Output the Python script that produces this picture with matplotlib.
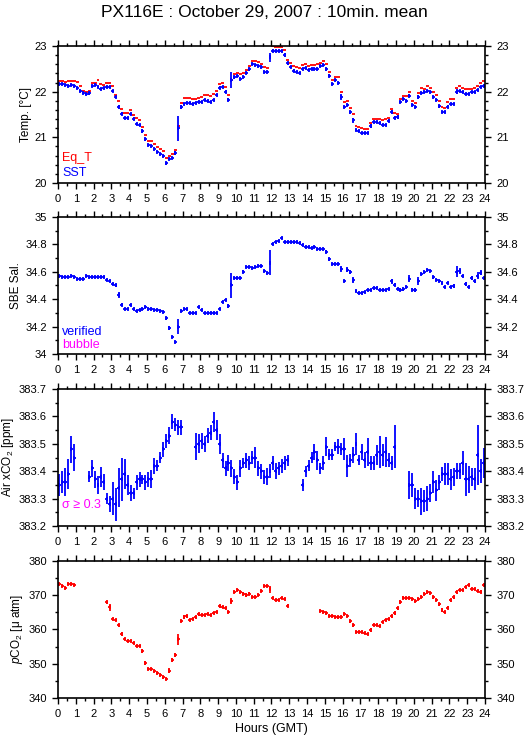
import numpy as np
import matplotlib
matplotlib.use("Agg")
import matplotlib.pyplot as plt
from matplotlib.ticker import MultipleLocator

plt.rcParams['font.family'] = ['Liberation Sans', 'DejaVu Sans']
plt.rcParams['mathtext.fontset'] = 'custom'
plt.rcParams['mathtext.rm'] = 'Liberation Sans'
plt.rcParams['mathtext.it'] = 'Liberation Sans:italic'

nan = np.nan

# 10-minute bins, one row per hour
hours = np.arange(144) / 6.0 + 1 / 12.0

sst = [
    22.16, 22.17, 22.15, 22.13, 22.14, 22.13,
    22.09, 22.02, 21.97, 21.94, 21.96, 22.12,
    22.14, 22.11, 22.06, 22.07, 22.10, 22.10,
    22.01, 21.88, 21.67, 21.52, 21.43, 21.43,
    21.50, 21.41, 21.30, 21.26, 21.14, 20.96,
    20.84, 20.81, 20.75, 20.68, 20.63, 20.60,
    20.43, 20.53, 20.55, 20.66, 21.20, 21.67,
    21.74, 21.75, 21.76, 21.74, 21.75, 21.77,
    21.78, 21.82, 21.80, 21.77, 21.82, 21.93,
    22.09, 22.10, 22.00, 21.82, 22.25, 22.31,
    22.34, 22.27, 22.32, 22.40, 22.49, 22.60,
    22.59, 22.57, 22.53, 22.43, 22.42, 22.75,
    22.90, 22.88, 22.88, 22.88, 22.80, 22.62,
    22.54, 22.46, 22.44, 22.40, 22.50, 22.51,
    22.47, 22.49, 22.49, 22.50, 22.56, 22.58,
    22.49, 22.35, 22.17, 22.25, 22.19, 21.88,
    21.67, 21.70, 21.55, 21.37, 21.17, 21.14,
    21.10, 21.10, 21.10, 21.25, 21.33, 21.33,
    21.31, 21.26, 21.28, 21.36, 21.55, 21.43,
    21.44, 21.77, 21.83, 21.80, 21.91, 21.70,
    21.66, 21.88, 21.98, 22.00, 22.02, 22.00,
    21.88, 21.82, 21.68, 21.56, 21.56, 21.67,
    21.73, 21.74, 22.00, 22.02, 21.99, 21.95,
    21.95, 22.00, 22.00, 22.04, 22.10, 22.13,
]
sst_sd = [
    0.02, 0.02, 0.02, 0.02, 0.02, 0.02,
    0.02, 0.02, 0.03, 0.02, 0.03, 0.02,
    0.02, 0.02, 0.02, 0.02, 0.02, 0.02,
    0.02, 0.03, 0.04, 0.03, 0.02, 0.02,
    0.02, 0.03, 0.02, 0.02, 0.04, 0.03,
    0.02, 0.02, 0.02, 0.02, 0.02, 0.02,
    0.03, 0.02, 0.02, 0.05, 0.27, 0.04,
    0.02, 0.02, 0.02, 0.02, 0.02, 0.02,
    0.02, 0.02, 0.02, 0.02, 0.02, 0.02,
    0.03, 0.02, 0.04, 0.03, 0.17, 0.03,
    0.02, 0.02, 0.02, 0.02, 0.03, 0.02,
    0.02, 0.02, 0.02, 0.02, 0.02, 0.10,
    0.03, 0.02, 0.02, 0.02, 0.04, 0.03,
    0.03, 0.03, 0.02, 0.02, 0.02, 0.02,
    0.02, 0.02, 0.02, 0.02, 0.02, 0.02,
    0.03, 0.04, 0.03, 0.02, 0.03, 0.07,
    0.02, 0.02, 0.03, 0.06, 0.02, 0.02,
    0.02, 0.02, 0.02, 0.04, 0.02, 0.02,
    0.02, 0.02, 0.02, 0.03, 0.04, 0.03,
    0.05, 0.02, 0.02, 0.02, 0.03, 0.02,
    0.02, 0.05, 0.02, 0.02, 0.02, 0.02,
    0.02, 0.02, 0.03, 0.02, 0.02, 0.03,
    0.03, 0.02, 0.05, 0.02, 0.02, 0.02,
    0.02, 0.02, 0.02, 0.02, 0.02, 0.02,
]
eq_t = [
    22.24, 22.24, 22.22, 22.23, 22.24, 22.24,
    22.22, 22.12, 22.02, 22.00, 22.01, 22.19,
    22.19, 22.25, 22.17, 22.15, 22.19, 22.20,
    22.12, 21.92, 21.80, 21.62, 21.53, 21.53,
    21.60, 21.48, 21.42, 21.37, 21.22, 21.06,
    20.93, 20.91, 20.86, 20.79, 20.74, 20.70,
    20.55, 20.60, 20.64, 20.73, 21.25, 21.76,
    21.85, 21.85, 21.86, 21.84, 21.84, 21.87,
    21.88, 21.93, 21.93, 21.90, 21.95, 22.02,
    22.17, 22.19, 22.11, 21.93, 22.26, 22.38,
    22.40, 22.38, 22.40, 22.47, 22.56, 22.67,
    22.66, 22.64, 22.60, 22.53, 22.52, 22.78,
    22.99, 22.98, 22.98, 22.98, 22.91, 22.70,
    22.62, 22.57, 22.53, 22.51, 22.58, 22.60,
    22.56, 22.58, 22.58, 22.60, 22.63, 22.66,
    22.60, 22.42, 22.25, 22.33, 22.31, 22.00,
    21.77, 21.79, 21.64, 21.51, 21.25, 21.22,
    21.20, 21.19, 21.19, 21.32, 21.41, 21.41,
    21.41, 21.37, 21.39, 21.42, 21.62, 21.53,
    21.51, 21.84, 21.91, 21.91, 21.99, 21.79,
    21.75, 21.96, 22.07, 22.06, 22.12, 22.08,
    21.99, 21.93, 21.79, 21.66, 21.64, 21.77,
    21.83, 21.83, 22.09, 22.12, 22.08, 22.06,
    22.05, 22.06, 22.07, 22.13, 22.18, 22.23,
]

sal = [
    34.567, 34.565, 34.564, 34.563, 34.566, 34.563,
    34.548, 34.547, 34.550, 34.566, 34.560, 34.560,
    34.562, 34.561, 34.562, 34.560, 34.540, 34.535,
    34.510, 34.500, 34.430, 34.360, 34.330, 34.330,
    34.360, 34.330, 34.315, 34.320, 34.330, 34.340,
    34.326, 34.325, 34.323, 34.320, 34.315, 34.305,
    34.260, 34.190, 34.125, 34.090, 34.200, 34.315,
    34.330, 34.330, 34.300, 34.297, 34.300, 34.340,
    34.320, 34.297, 34.297, 34.300, 34.300, 34.300,
    34.330, 34.380, 34.394, 34.350, 34.500, 34.557,
    34.553, 34.557, 34.600, 34.637, 34.637, 34.630,
    34.632, 34.640, 34.640, 34.606, 34.592, 34.667,
    34.800, 34.820, 34.825, 34.845, 34.820, 34.815,
    34.815, 34.815, 34.815, 34.810, 34.795, 34.780,
    34.778, 34.777, 34.778, 34.766, 34.765, 34.765,
    34.747, 34.690, 34.655, 34.655, 34.657, 34.620,
    34.530, 34.615, 34.600, 34.540, 34.460, 34.448,
    34.448, 34.455, 34.467, 34.467, 34.484, 34.480,
    34.467, 34.467, 34.467, 34.475, 34.530, 34.505,
    34.475, 34.470, 34.472, 34.487, 34.548, 34.470,
    34.467, 34.533, 34.584, 34.596, 34.613, 34.606,
    34.560, 34.540, 34.533, 34.516, 34.490, 34.516,
    34.490, 34.496, 34.600, 34.606, 34.570, 34.510,
    34.487, 34.557, 34.530, 34.570, 34.594, 34.557,
]
sal_sd = [
    0.004, 0.004, 0.004, 0.004, 0.004, 0.004,
    0.004, 0.004, 0.004, 0.004, 0.004, 0.004,
    0.004, 0.004, 0.004, 0.004, 0.006, 0.006,
    0.008, 0.008, 0.020, 0.010, 0.006, 0.006,
    0.006, 0.008, 0.004, 0.004, 0.004, 0.006,
    0.004, 0.004, 0.004, 0.004, 0.004, 0.004,
    0.012, 0.012, 0.008, 0.008, 0.055, 0.006,
    0.006, 0.006, 0.004, 0.004, 0.004, 0.006,
    0.006, 0.004, 0.004, 0.004, 0.004, 0.004,
    0.008, 0.006, 0.006, 0.012, 0.090, 0.008,
    0.006, 0.006, 0.010, 0.004, 0.004, 0.004,
    0.004, 0.004, 0.004, 0.006, 0.004, 0.090,
    0.008, 0.006, 0.004, 0.006, 0.004, 0.004,
    0.004, 0.004, 0.004, 0.004, 0.004, 0.004,
    0.004, 0.004, 0.004, 0.004, 0.004, 0.004,
    0.010, 0.010, 0.006, 0.004, 0.004, 0.025,
    0.008, 0.020, 0.015, 0.020, 0.008, 0.004,
    0.004, 0.004, 0.004, 0.004, 0.004, 0.004,
    0.004, 0.004, 0.004, 0.004, 0.018, 0.010,
    0.010, 0.008, 0.010, 0.006, 0.025, 0.012,
    0.012, 0.030, 0.008, 0.006, 0.004, 0.004,
    0.010, 0.006, 0.006, 0.006, 0.008, 0.006,
    0.008, 0.012, 0.040, 0.020, 0.010, 0.012,
    0.008, 0.015, 0.012, 0.025, 0.018, 0.008,
]

air = [
    383.35, 383.36, 383.36, 383.39, 383.48, 383.45,
    nan, nan, nan, nan, 383.38, 383.41,
    383.37, 383.35, 383.38, 383.36, 383.30, 383.28,
    383.30, 383.28, 383.34, 383.37, 383.39, 383.35,
    383.32, 383.32, 383.36, 383.37, 383.37, 383.36,
    383.37, 383.37, 383.42, 383.42, 383.45, 383.48,
    383.51, 383.53, 383.58, 383.57, 383.56, 383.56,
    nan, nan, nan, nan, 383.49, 383.50,
    383.51, 383.50, 383.53, 383.54, 383.58, 383.55,
    383.50, 383.44, 383.41, 383.43, 383.41, 383.38,
    383.36, 383.41, 383.43, 383.44, 383.43, 383.45,
    383.45, 383.41, 383.40, 383.38, 383.38, 383.40,
    383.43, 383.40, 383.41, 383.42, 383.43, 383.44,
    nan, nan, nan, nan, 383.35, 383.40,
    383.42, 383.45, 383.47, 383.44, 383.41, 383.43,
    383.49, 383.46, 383.46, 383.49, 383.49, 383.48,
    383.48, 383.42, 383.44, 383.46, 383.50, 383.44,
    383.47, 383.44, 383.47, 383.43, 383.43, 383.46,
    383.47, 383.46, 383.47, 383.44, 383.43, 383.49,
    nan, nan, nan, nan, 383.35, 383.35,
    383.30, 383.30, 383.29, 383.29, 383.30, 383.32,
    383.36, 383.33, 383.36, 383.39, 383.39, 383.39,
    383.37, 383.38, 383.40, 383.40, 383.43, 383.37,
    383.37, 383.38, 383.37, 383.46, 383.40, 383.43,
]
air_sd = [
    0.040, 0.040, 0.050, 0.055, 0.050, 0.050,
    nan, nan, nan, nan, 0.020, 0.030,
    0.030, 0.033, 0.037, 0.030, 0.020, 0.030,
    0.060, 0.060, 0.070, 0.080, 0.055, 0.037,
    0.030, 0.020, 0.027, 0.027, 0.018, 0.027,
    0.026, 0.033, 0.030, 0.020, 0.020, 0.027,
    0.027, 0.030, 0.027, 0.025, 0.028, 0.028,
    nan, nan, nan, nan, 0.048, 0.034,
    0.030, 0.030, 0.027, 0.027, 0.036, 0.037,
    0.037, 0.027, 0.027, 0.030, 0.030, 0.027,
    0.027, 0.030, 0.020, 0.027, 0.027, 0.024,
    0.040, 0.027, 0.027, 0.025, 0.030, 0.025,
    0.027, 0.030, 0.025, 0.025, 0.025, 0.020,
    nan, nan, nan, nan, 0.022, 0.020,
    0.020, 0.020, 0.030, 0.035, 0.020, 0.027,
    0.036, 0.020, 0.020, 0.016, 0.027, 0.022,
    0.040, 0.040, 0.024, 0.030, 0.040, 0.018,
    0.030, 0.030, 0.050, 0.027, 0.025, 0.036,
    0.060, 0.040, 0.055, 0.025, 0.027, 0.080,
    nan, nan, nan, nan, 0.050, 0.043,
    0.037, 0.030, 0.050, 0.040, 0.045, 0.033,
    0.040, 0.037, 0.027, 0.027, 0.040, 0.040,
    0.037, 0.033, 0.030, 0.030, 0.045, 0.060,
    0.050, 0.033, 0.040, 0.110, 0.043, 0.055,
]

pco2 = [
    373.3, 372.7, 372.0, 373.3, 373.3, 373.0,
    nan, nan, nan, nan, nan, nan,
    nan, nan, nan, nan, 367.9, 366.5,
    363.1, 362.7, 361.2, 358.6, 357.1, 356.5,
    356.5, 356.0, 355.2, 355.1, 353.6, 350.3,
    348.5, 348.4, 347.9, 347.2, 346.6, 346.0,
    345.6, 348.0, 351.0, 352.6, 357.2, 362.4,
    363.6, 363.8, 362.9, 363.1, 363.6, 364.4,
    364.2, 364.2, 364.4, 364.1, 364.7, 365.2,
    366.8, 366.7, 366.2, 365.2, 368.3, 370.9,
    371.5, 370.9, 370.4, 370.1, 370.4, 369.4,
    369.4, 370.1, 371.2, 372.6, 372.6, 371.7,
    369.1, 368.6, 368.6, 369.1, 368.8, 366.9,
    nan, nan, nan, nan, nan, nan,
    nan, nan, nan, nan, 365.4, 365.2,
    364.7, 363.9, 363.9, 363.7, 363.5, 363.6,
    364.4, 364.0, 362.4, 361.2, 359.2, 359.2,
    359.2, 359.0, 358.6, 359.9, 361.4, 361.3,
    361.1, 362.1, 362.8, 363.0, 363.8, 364.8,
    366.2, 368.1, 369.3, 369.3, 369.3, 368.8,
    368.4, 368.8, 369.4, 370.3, 370.8, 370.6,
    369.4, 368.6, 367.3, 365.7, 365.1, 366.4,
    368.5, 369.4, 370.8, 371.5, 371.5, 372.5,
    373.0, 371.7, 371.7, 371.3, 371.0, 373.0,
]
pco2_sd = [
    0.3, 0.3, 0.3, 0.3, 0.3, 0.3,
    nan, nan, nan, nan, nan, nan,
    nan, nan, nan, nan, 0.5, 1.0,
    0.3, 0.3, 0.5, 0.6, 0.3, 0.3,
    0.3, 0.3, 0.3, 0.3, 0.6, 0.6,
    0.3, 0.3, 0.3, 0.3, 0.3, 0.4,
    0.3, 0.7, 0.6, 0.6, 1.6, 0.3,
    0.5, 0.5, 0.3, 0.3, 0.4, 0.4,
    0.3, 0.3, 0.3, 0.3, 0.3, 0.3,
    0.4, 0.3, 0.3, 0.3, 0.8, 0.3,
    0.3, 0.3, 0.4, 0.5, 0.4, 0.3,
    0.3, 0.3, 0.4, 0.3, 0.3, 1.1,
    0.3, 0.3, 0.3, 0.3, 0.3, 0.4,
    nan, nan, nan, nan, nan, nan,
    nan, nan, nan, nan, 0.3, 0.3,
    0.3, 0.3, 0.3, 0.3, 0.3, 0.3,
    0.3, 0.3, 0.5, 0.5, 0.3, 0.3,
    0.3, 0.3, 0.3, 0.6, 0.3, 0.3,
    0.3, 0.3, 0.3, 0.3, 0.4, 0.5,
    0.5, 0.6, 0.5, 0.3, 0.3, 0.3,
    0.3, 0.3, 0.3, 0.3, 0.3, 0.3,
    0.4, 0.4, 0.4, 0.5, 0.3, 0.4,
    0.4, 0.4, 0.4, 0.3, 0.3, 0.3,
    0.3, 0.3, 0.3, 0.3, 0.4, 0.3,
]

fig = plt.figure(figsize=(5.29, 7.39), dpi=100)
fig.text(0.5, 0.983, 'PX116E : October 29, 2007 : 10min. mean',
         ha='center', va='center', fontsize=12.5)

bottoms = [0.7524, 0.5210, 0.2882, 0.0555]
axes = [fig.add_axes([0.1096, b, 0.8072, 0.1854]) for b in bottoms]
half = 1 / 12.0
lw = 1.3


def plus(ax, y, sd, color):
    # 10-min bar with std whiskers, and a small '|' so every bin reads as '+'
    ax.errorbar(hours, y, xerr=half, yerr=sd, fmt='|', color=color,
                ecolor=color, elinewidth=lw, markersize=3.5, markeredgewidth=lw)


def style(ax, ylim, major, minor, fmt):
    ax.set_xlim(0, 24)
    ax.set_ylim(*ylim)
    ax.xaxis.set_major_locator(MultipleLocator(1))
    ax.xaxis.set_minor_locator(MultipleLocator(0.5))
    ax.yaxis.set_major_locator(MultipleLocator(major))
    ax.yaxis.set_minor_locator(MultipleLocator(minor))
    ax.yaxis.set_major_formatter(fmt)
    ax.tick_params(which='both', direction='out', top=True, right=True,
                   labelright=True, labelsize=8, width=1, pad=4)
    ax.tick_params(which='major', length=4)
    ax.tick_params(which='minor', length=2.5)
    for s in ax.spines.values():
        s.set_linewidth(1.2)


def g(v, pos):
    return ('%.1f' % v).rstrip('0').rstrip('.')


ax = axes[0]
ax.errorbar(hours, eq_t, xerr=half, fmt='none', ecolor='red', elinewidth=lw)
plus(ax, sst, sst_sd, 'blue')
style(ax, (20, 23), 1, 0.2, g)
ax.set_ylabel('Temp. [°C]', fontsize=8.5, labelpad=2)
ax.text(0.01, 0.18, 'Eq_T', color='red', transform=ax.transAxes, fontsize=9, va='center')
ax.text(0.01, 0.07, 'SST', color='blue', transform=ax.transAxes, fontsize=9, va='center')

ax = axes[1]
plus(ax, sal, sal_sd, 'blue')
style(ax, (34, 35), 0.2, 0.1, g)
ax.set_ylabel('SBE Sal.', fontsize=8.5, labelpad=2)
ax.text(0.01, 0.16, 'verified', color='blue', transform=ax.transAxes, fontsize=9, va='center')
ax.text(0.01, 0.065, 'bubble', color='magenta', transform=ax.transAxes, fontsize=9, va='center')

ax = axes[2]
plus(ax, air, air_sd, 'blue')
style(ax, (383.2, 383.7), 0.1, 0.05, lambda v, p: '%.1f' % v)
ax.set_ylabel('Air xCO$_2$ [ppm]', fontsize=8.5, labelpad=2)
ax.text(0.01, 0.153, 'σ ≥ 0.3', color='magenta', transform=ax.transAxes, fontsize=9, va='center')

ax = axes[3]
plus(ax, pco2, pco2_sd, 'red')
style(ax, (340, 380), 10, 5, lambda v, p: '%d' % v)
ax.set_ylabel('$p$CO$_2$ [μ atm]', fontsize=8.5, labelpad=2)
ax.set_xlabel('Hours (GMT)', fontsize=9, labelpad=3)

fig.savefig('out.png', dpi=100)
